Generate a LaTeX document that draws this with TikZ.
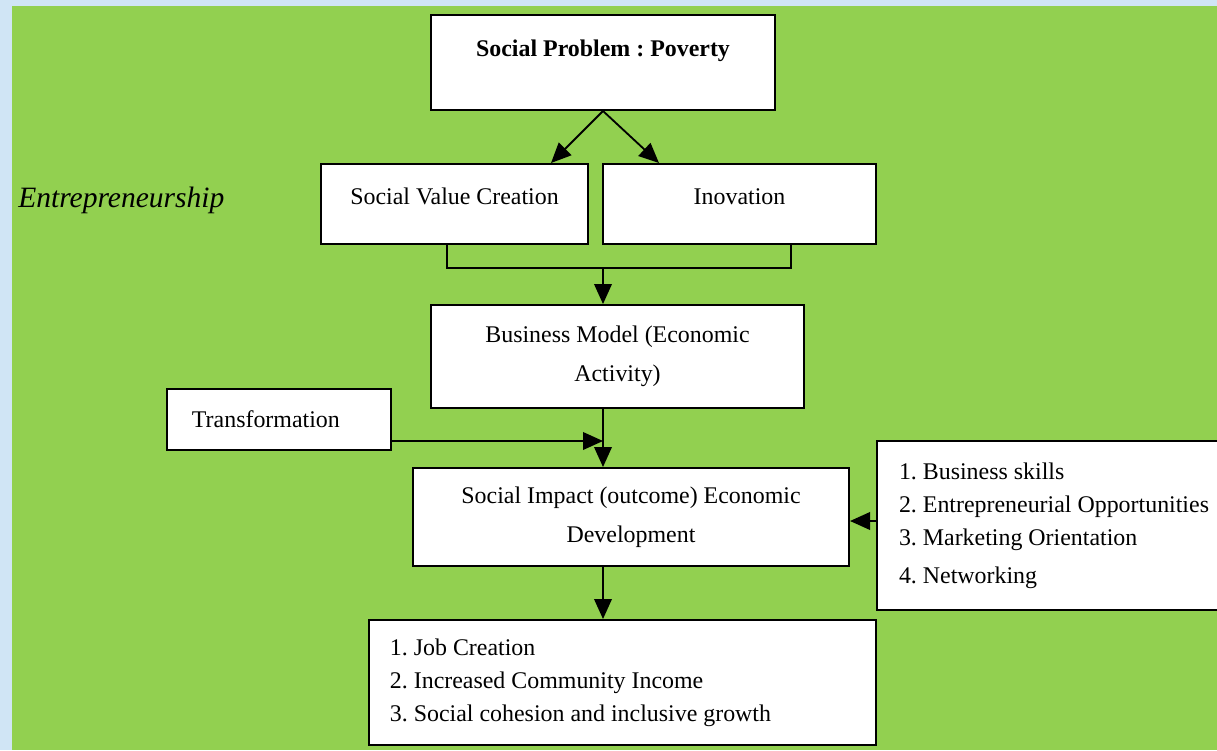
\documentclass[tikz,border=0pt]{standalone}
\usepackage{fontspec}
\setmainfont{Liberation Serif}
\usetikzlibrary{arrows.meta, positioning, calc}
\definecolor{PageBlue}{HTML}{D0E5F5}
\definecolor{LeafGreen}{HTML}{92D050}
\newcommand{\boxfont}{\fontsize{17}{23.4}\selectfont\frenchspacing}
\tikzset{
  box/.style={draw=black, fill=white, line width=1.4pt, inner sep=0pt, font=\boxfont},
  listbox/.style={box, align=flush left},
  flow/.style={-{Triangle[length=5mm,width=4.4mm]}, line width=1.3pt},
  link/.style={line width=1.3pt},
}

\begin{document}
\begin{tikzpicture}[x=0.025cm, y=-0.025cm]
  % page and green panel
  \fill[PageBlue] (0,0) rectangle (1217,750);
  \fill[LeafGreen] (12,6) rectangle (1217,750);
  \useasboundingbox (0,0) rectangle (1217,750);

  \node[box, font=\boxfont\bfseries, minimum width=8.6cm, minimum height=2.375cm,
        text depth=20pt] (prob) at (603,62.5) {Social Problem : Poverty};
  \node[box, minimum width=6.675cm, minimum height=2cm, text depth=11pt]
    (svc) at (454.5,204) {Social Value Creation};
  \node[box, minimum width=6.825cm, minimum height=2cm, text depth=11pt]
    (inov) at (739.5,204) {Inovation};
  \node[box, align=center, minimum width=9.325cm, minimum height=2.575cm]
    (bm) at (617.5,356.5) {Business Model (Economic\\[4.2pt] Activity)};
  \node[listbox, text width=4.35cm, inner xsep=0.625cm, minimum height=1.525cm]
    (trans) at (279,419.5) {Transformation};
  \node[box, align=center, minimum width=10.9cm, minimum height=2.45cm]
    (si) at (631,517) {Social Impact (outcome) Economic\\[4pt] Development};
  \node[listbox, anchor=west, text width=8cm, inner xsep=0.55cm, minimum height=4.225cm]
    (skills) at (876,525.5) {1. Business skills\\ 2. Entrepreneurial Opportunities\\
      3. Marketing Orientation\\[3.5pt] 4. Networking};
  \node[listbox, text width=11.625cm, inner xsep=0.525cm, minimum height=3.125cm]
    (out) at (622.5,682.5) {1. Job Creation\\ 2. Increased Community Income\\
      3. Social cohesion and inclusive growth};
  \node[anchor=west, inner sep=0pt, font=\fontsize{21}{25}\selectfont\itshape]
    (ent) at (18,200) {Entrepreneurship};

  % connectors
  \coordinate (merge) at (603,268);
  \coordinate (tjoin) at (603,441);
  \draw[flow] (prob.south) -- ([xshift=-0.95cm]svc.north east);
  \draw[flow] (prob.south) -- ([xshift=1.425cm]inov.north west);
  \draw[link] ([xshift=-0.19cm]svc.south) |- (merge) -| ([xshift=1.29cm]inov.south);
  \draw[flow] (merge) -- (merge |- bm.north);
  \draw[flow] (trans.east |- tjoin) -- (tjoin);
  \draw[flow] (bm.south -| tjoin) -- (si.north -| tjoin);
  \draw[flow] ([yshift=-0.1cm]skills.west |- si.east) -- ([yshift=-0.1cm]si.east);
  \draw[flow] (si.south -| tjoin) -- (out.north -| tjoin);
\end{tikzpicture}
\end{document}
